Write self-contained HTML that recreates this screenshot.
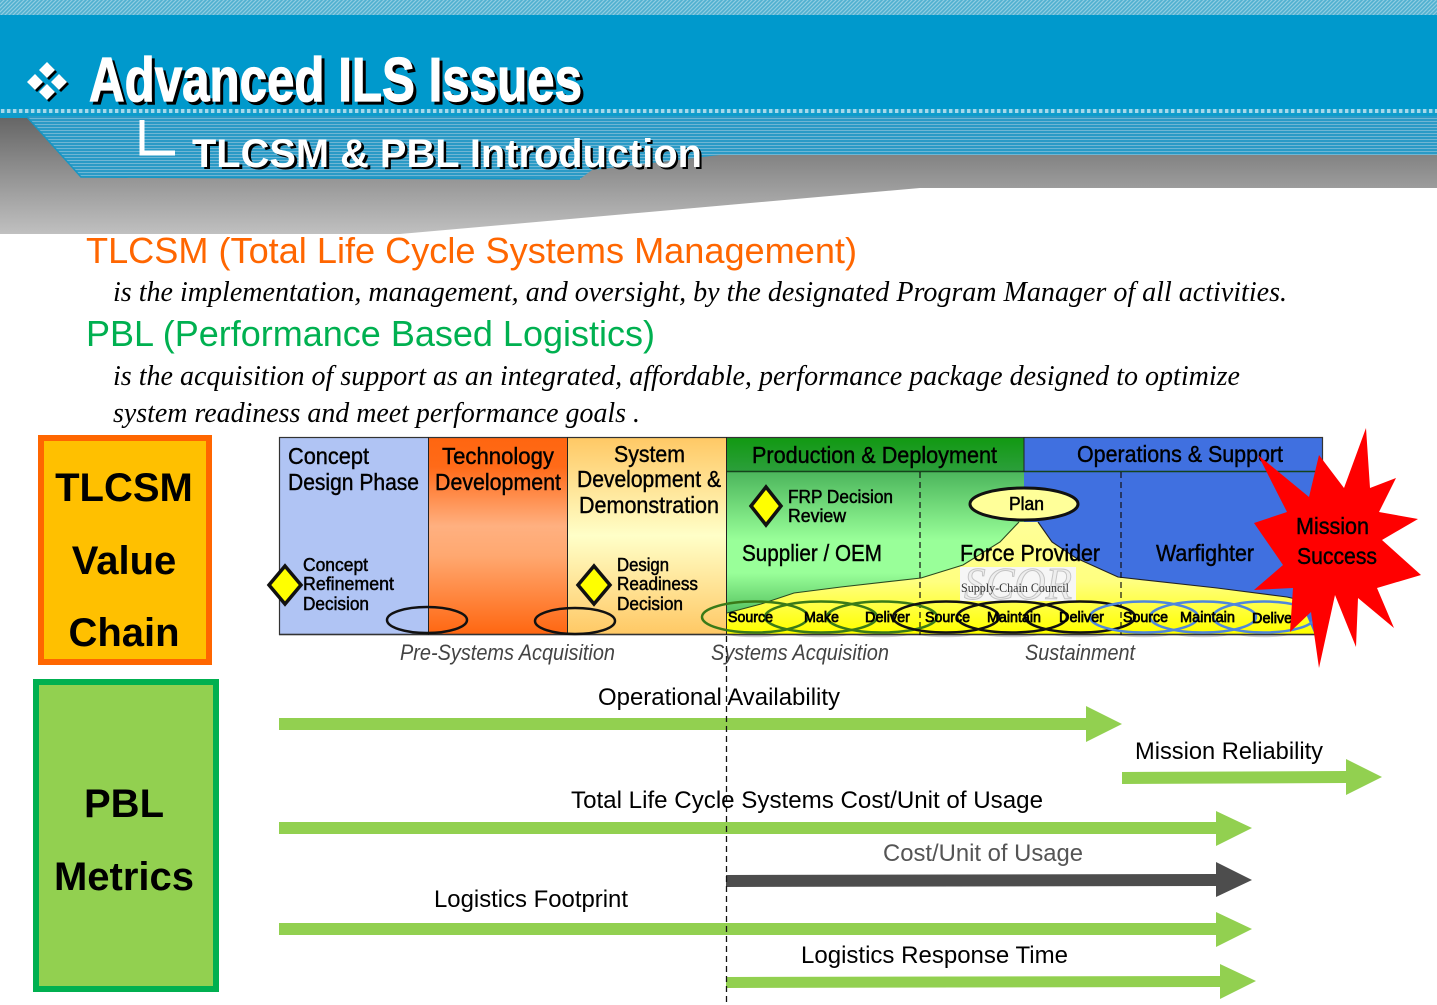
<!DOCTYPE html>
<html><head><meta charset="utf-8">
<style>
html,body{margin:0;padding:0;background:#fff;width:1437px;height:1005px;overflow:hidden}
svg{display:block}
text{font-family:"Liberation Sans",sans-serif;fill:#000}
.d{font-size:23px;stroke:#000;stroke-width:.4px}
.s{font-size:18px;stroke:#000;stroke-width:.5px}
.e{font-size:15px;stroke:#000;stroke-width:.7px}
.a{font-size:24px}
.i{font-family:"Liberation Serif",serif;font-style:italic;font-size:28px}
.p{font-style:italic;font-size:22px;fill:#444}
.b{font-weight:bold;font-size:40px;text-anchor:middle}
</style></head><body>
<svg width="1437" height="1005" viewBox="0 0 1437 1005" xmlns="http://www.w3.org/2000/svg">
<defs>
<pattern id="hatch" width="4" height="4" patternUnits="userSpaceOnUse"><rect width="4" height="4" fill="#4fb0d0"/><path d="M-1 1L1 -1M0 4L4 0M3 5L5 3" stroke="#8fcde2" stroke-width="1.2"/></pattern>
<pattern id="stripe" width="4" height="3" patternUnits="userSpaceOnUse"><rect width="4" height="3" fill="#2a9ac6"/><rect y="1" width="4" height="1" fill="#6fb6d4"/></pattern>
<pattern id="dots" width="6" height="4" patternUnits="userSpaceOnUse"><rect width="6" height="4" fill="#1aa0cc"/><rect x="1" width="3.4" height="4" fill="#a4d8ea"/></pattern>
<linearGradient id="gray" gradientUnits="userSpaceOnUse" x1="0" y1="118" x2="0" y2="234"><stop offset="0" stop-color="#666"/><stop offset="1" stop-color="#c0c0c0"/></linearGradient>
<linearGradient id="tech" x1="0" y1="0" x2="0" y2="1"><stop offset="0" stop-color="#ff6610"/><stop offset=".15" stop-color="#ff6a18"/><stop offset=".45" stop-color="#ffb080"/><stop offset=".6" stop-color="#ffa870"/><stop offset="1" stop-color="#ff6610"/></linearGradient>
<linearGradient id="sys" x1="0" y1="0" x2="0" y2="1"><stop offset="0" stop-color="#ffc864"/><stop offset=".5" stop-color="#ffffc8"/><stop offset="1" stop-color="#ffc864"/></linearGradient>
<linearGradient id="prod" x1="0" y1="0" x2="0" y2="1"><stop offset="0" stop-color="#4cb65c"/><stop offset=".42" stop-color="#99ff99"/><stop offset=".62" stop-color="#99ff99"/><stop offset="1" stop-color="#30a040"/></linearGradient>
<linearGradient id="head" x1="0" y1="0" x2="0" y2="1"><stop offset="0" stop-color="#119911"/><stop offset="1" stop-color="#2c9f3c"/></linearGradient>
<linearGradient id="mtn" gradientUnits="userSpaceOnUse" x1="0" y1="520" x2="0" y2="632"><stop offset="0" stop-color="#ffff99"/><stop offset=".55" stop-color="#ffff80"/><stop offset="1" stop-color="#ffff00"/></linearGradient>
<clipPath id="below"><rect x="690" y="635" width="640" height="6"/></clipPath>
</defs>

<!-- header -->
<rect width="1437" height="16" fill="url(#hatch)"/>
<rect y="15" width="1437" height="96" fill="#0099cc"/>
<rect y="109" width="1437" height="4" fill="url(#dots)"/>
<rect y="113" width="1437" height="5" fill="#0e9ccb"/>
<polygon points="0,118 1437,118 1437,188 920,188 400,234 0,234" fill="url(#gray)"/>
<polygon points="27,116 1437,116 1437,155 720,155 592,170 580,179 81,177" fill="url(#stripe)"/>
<polyline points="27,117 81,177 580,179" fill="none" stroke="#1796c4" stroke-width="1.5"/>

<!-- bullet -->
<g fill="#000" transform="translate(2,2)"><polygon points="47,62 55,70 47,78 39,70"/><polygon points="35,74 43,82 35,90 27,82"/><polygon points="59,74 67,82 59,90 51,82"/><polygon points="47,84 55,92 47,100 39,92"/></g>
<g fill="#fff"><polygon points="47,62 55,70 47,78 39,70"/><polygon points="35,74 43,82 35,90 27,82"/><polygon points="59,74 67,82 59,90 51,82"/><polygon points="47,84 55,92 47,100 39,92"/></g>

<text x="92" y="104" font-size="62" font-weight="bold" textLength="493" lengthAdjust="spacingAndGlyphs" style="fill:#000;stroke:#000;stroke-width:1.2">Advanced ILS Issues</text>
<text x="89" y="101" font-size="62" font-weight="bold" textLength="493" lengthAdjust="spacingAndGlyphs" style="fill:#fff;stroke:#fff;stroke-width:1.2">Advanced ILS Issues</text>
<path d="M142 120V153H175" fill="none" stroke="#fff" stroke-width="5"/>
<text x="195" y="169" font-size="40" font-weight="bold" textLength="509" lengthAdjust="spacingAndGlyphs" style="fill:#000">TLCSM &amp; PBL Introduction</text>
<text x="192" y="167" font-size="40" font-weight="bold" textLength="510" lengthAdjust="spacingAndGlyphs" style="fill:#fff">TLCSM &amp; PBL Introduction</text>

<!-- definitions -->
<text x="86" y="263" font-size="36" textLength="771" lengthAdjust="spacingAndGlyphs" style="fill:#ff6600">TLCSM (Total Life Cycle Systems Management)</text>
<text class="i" x="113" y="301" textLength="1174" lengthAdjust="spacingAndGlyphs">is the implementation, management, and oversight, by the designated Program Manager of all activities.</text>
<text x="86" y="346" font-size="36" textLength="569" lengthAdjust="spacingAndGlyphs" style="fill:#00b050">PBL (Performance Based Logistics)</text>
<text class="i" x="113" y="385" textLength="1127" lengthAdjust="spacingAndGlyphs">is the acquisition of support as an integrated, affordable, performance package designed to optimize</text>
<text class="i" x="113" y="422" textLength="527" lengthAdjust="spacingAndGlyphs">system readiness and meet performance goals .</text>

<!-- left boxes -->
<rect x="41" y="438" width="168" height="224" fill="#ffc000" stroke="#ff6600" stroke-width="6"/>
<text class="b" x="124" y="501">TLCSM</text>
<text class="b" x="124" y="574">Value</text>
<text class="b" x="124" y="646">Chain</text>
<rect x="36" y="682" width="180" height="307" fill="#92d050" stroke="#00b050" stroke-width="6"/>
<text class="b" x="124" y="817">PBL</text>
<text class="b" x="124" y="890">Metrics</text>

<!-- value chain -->
<rect x="279" y="437" width="149" height="198" fill="#b0c4f4"/>
<rect x="428" y="437" width="139" height="198" fill="url(#tech)"/>
<rect x="567" y="437" width="159" height="198" fill="url(#sys)"/>
<rect x="726" y="472" width="298" height="163" fill="url(#prod)"/>
<rect x="726" y="437" width="298" height="35" fill="url(#head)"/>
<rect x="1024" y="437" width="299" height="198" fill="#4070e0"/>
<line x1="726" y1="471.500" x2="1323" y2="471.500" stroke="#15431c" stroke-width="1.500"/>

<polygon points="1019,522 1000,542 963,565 921,578 841,587 794,593 761,604 727,613 726,635 1315,635 1300,600 1287,597 1217,588 1118,577 1076,558 1052,542 1038,522" fill="url(#mtn)"/>
<polyline points="1019,522 1000,542 963,565 921,578 841,587 794,593 761,604 727,613" fill="none" stroke="#2a4a20" stroke-width="1.100"/>
<polyline points="1038,522 1052,542 1076,558 1118,577 1217,588 1287,597 1300,600" fill="none" stroke="#222" stroke-width="1.100"/>

<rect x="279.500" y="437.500" width="1043" height="197" fill="none" stroke="#333" stroke-width="1.200"/>
<line x1="279" y1="634.500" x2="1316" y2="634.500" stroke="#333" stroke-width="1.600"/>
<line x1="428.500" y1="437" x2="428.500" y2="635" stroke="#222"/>
<line x1="567.500" y1="437" x2="567.500" y2="635" stroke="#222"/>
<line x1="726.500" y1="437" x2="726.500" y2="635" stroke="#222"/>
<line x1="1024" y1="437" x2="1024" y2="472" stroke="#222"/>
<line x1="920" y1="472" x2="920" y2="635" stroke="#111" stroke-width="1.200" stroke-dasharray="6 4"/>
<line x1="1121" y1="472" x2="1121" y2="635" stroke="#111" stroke-width="1.200" stroke-dasharray="6 4"/>

<!-- header labels -->
<text class="d" x="288" y="464" textLength="81" lengthAdjust="spacingAndGlyphs">Concept</text>
<text class="d" x="288" y="490" textLength="131" lengthAdjust="spacingAndGlyphs">Design Phase</text>
<text class="d" x="442" y="464" textLength="112" lengthAdjust="spacingAndGlyphs">Technology</text>
<text class="d" x="435" y="490" textLength="126" lengthAdjust="spacingAndGlyphs">Development</text>
<text class="d" x="614" y="462" textLength="71" lengthAdjust="spacingAndGlyphs">System</text>
<text class="d" x="577" y="487" textLength="144" lengthAdjust="spacingAndGlyphs">Development &amp;</text>
<text class="d" x="579" y="513" textLength="140" lengthAdjust="spacingAndGlyphs">Demonstration</text>
<text class="d" x="752" y="463" textLength="245" lengthAdjust="spacingAndGlyphs">Production &amp; Deployment</text>
<text class="d" x="1077" y="462" textLength="206" lengthAdjust="spacingAndGlyphs">Operations &amp; Support</text>

<!-- diamonds -->
<g fill="#ffff00" stroke="#111" stroke-width="3.500">
<polygon points="285,566 301,585 285,604 269,585"/>
<polygon points="594,566 610,585 594,604 578,585"/>
<polygon points="766,487 781,506 766,525 751,506"/>
</g>
<text class="s" x="303" y="571" textLength="65" lengthAdjust="spacingAndGlyphs">Concept</text>
<text class="s" x="303" y="590" textLength="91" lengthAdjust="spacingAndGlyphs">Refinement</text>
<text class="s" x="303" y="610" textLength="66" lengthAdjust="spacingAndGlyphs">Decision</text>
<text class="s" x="617" y="571" textLength="52" lengthAdjust="spacingAndGlyphs">Design</text>
<text class="s" x="617" y="590" textLength="81" lengthAdjust="spacingAndGlyphs">Readiness</text>
<text class="s" x="617" y="610" textLength="66" lengthAdjust="spacingAndGlyphs">Decision</text>
<text class="s" x="788" y="503" textLength="105" lengthAdjust="spacingAndGlyphs">FRP Decision</text>
<text class="s" x="788" y="522" textLength="58" lengthAdjust="spacingAndGlyphs">Review</text>

<text class="d" x="742" y="561" textLength="140" lengthAdjust="spacingAndGlyphs">Supplier / OEM</text>
<text class="d" x="960" y="561" textLength="140" lengthAdjust="spacingAndGlyphs">Force Provider</text>
<text class="d" x="1156" y="561" textLength="98" lengthAdjust="spacingAndGlyphs">Warfighter</text>

<!-- plan -->
<ellipse cx="1024" cy="504" rx="54" ry="16" fill="#ffff99" stroke="#111" stroke-width="3"/>
<text class="s" x="1009" y="510" textLength="35" lengthAdjust="spacingAndGlyphs">Plan</text>

<!-- SCOR -->
<rect x="960" y="567" width="116" height="34" fill="#f6f6f6"/>
<text x="964" y="599" font-size="46" textLength="108" lengthAdjust="spacingAndGlyphs" style="font-family:'Liberation Serif',serif;font-style:italic;fill:#eeeeee;stroke:#c4c4c4;stroke-width:1">SCOR</text>
<text x="961" y="592" font-size="13" textLength="108" lengthAdjust="spacingAndGlyphs" style="font-family:'Liberation Serif',serif;fill:#333">Supply-Chain Council</text>

<!-- ellipses -->
<g fill="none" stroke="#555" stroke-width="2.500" opacity=".3" clip-path="url(#below)">
<ellipse cx="755" cy="620" rx="53" ry="16"/><ellipse cx="821" cy="620" rx="56" ry="16"/><ellipse cx="882" cy="620" rx="55" ry="16"/>
<ellipse cx="946" cy="620" rx="53" ry="16"/><ellipse cx="1012" cy="620" rx="55" ry="16"/><ellipse cx="1080" cy="620" rx="55" ry="16"/>
<ellipse cx="1144" cy="620" rx="54" ry="16"/><ellipse cx="1203" cy="620" rx="53" ry="16"/><ellipse cx="1264" cy="620" rx="51" ry="16"/>
</g>
<g fill="none" stroke-width="2.500">
<g stroke="#3a7a18"><ellipse cx="755" cy="617" rx="53" ry="15.500"/><ellipse cx="821" cy="617" rx="56" ry="15.500"/><ellipse cx="882" cy="617" rx="55" ry="15.500"/></g>
<g stroke="#111"><ellipse cx="946" cy="617" rx="53" ry="15.500"/><ellipse cx="1012" cy="617" rx="55" ry="15.500"/><ellipse cx="1080" cy="617" rx="55" ry="15.500"/></g>
<g stroke="#4f86dc"><ellipse cx="1144" cy="617" rx="54" ry="15.500"/><ellipse cx="1203" cy="617" rx="53" ry="15.500"/><ellipse cx="1264" cy="617" rx="51" ry="15.500"/></g>
<g stroke="#111"><ellipse cx="427" cy="620" rx="40" ry="13"/><ellipse cx="575" cy="621" rx="40" ry="13"/></g>
</g>
<g>
<text class="e" x="728" y="622" textLength="45" lengthAdjust="spacingAndGlyphs">Source</text>
<text class="e" x="804" y="622" textLength="35" lengthAdjust="spacingAndGlyphs">Make</text>
<text class="e" x="865" y="622" textLength="45" lengthAdjust="spacingAndGlyphs">Deliver</text>
<text class="e" x="925" y="622" textLength="45" lengthAdjust="spacingAndGlyphs">Source</text>
<text class="e" x="987" y="622" textLength="54" lengthAdjust="spacingAndGlyphs">Maintain</text>
<text class="e" x="1059" y="622" textLength="45" lengthAdjust="spacingAndGlyphs">Deliver</text>
<text class="e" x="1123" y="622" textLength="45" lengthAdjust="spacingAndGlyphs">Source</text>
<text class="e" x="1180" y="622" textLength="55" lengthAdjust="spacingAndGlyphs">Maintain</text>
<text class="e" x="1252" y="623" textLength="45" lengthAdjust="spacingAndGlyphs">Deliver</text>
</g>

<!-- star -->
<polygon fill="#ff0000" points="1366,428 1370,488 1396,478 1379,512 1418,519 1382,540 1421,575 1377,588 1394,628 1358,598 1356,647 1335,595 1319,668 1311,612 1290,632 1293,588 1254,590 1283,565 1254,523 1287,512 1258,455 1309,497 1319,455 1344,488"/>
<text class="d" x="1296" y="534" textLength="73" lengthAdjust="spacingAndGlyphs">Mission</text>
<text class="d" x="1297" y="564" textLength="80" lengthAdjust="spacingAndGlyphs">Success</text>

<!-- phases -->
<text class="p" x="400" y="660" textLength="215" lengthAdjust="spacingAndGlyphs">Pre-Systems Acquisition</text>
<text class="p" x="711" y="660" textLength="178" lengthAdjust="spacingAndGlyphs">Systems Acquisition</text>
<text class="p" x="1025" y="660" textLength="110" lengthAdjust="spacingAndGlyphs">Sustainment</text>

<!-- arrows -->
<g fill="#92d050">
<polygon points="279,718 1086,718 1086,706 1122,724 1086,742 1086,730 279,730"/>
<polygon points="1122,772 1346,771 1346,759 1382,777 1346,795 1346,783 1122,784"/>
<polygon points="279,822 1216,822 1216,811 1252,828 1216,846 1216,834 279,834"/>
<polygon points="279,923 1216,923 1216,912 1252,929 1216,947 1216,935 279,935"/>
<polygon points="726,977 1220,976 1220,964 1256,981 1220,999 1220,987 726,988"/>
</g>
<polygon fill="#4d4d4d" points="726,875 1216,874 1216,862 1252,880 1216,897 1216,886 726,887"/>
<line x1="726.500" y1="636" x2="726.500" y2="1005" stroke="#111" stroke-width="1.300" stroke-dasharray="6 4"/>

<text class="a" x="598" y="705" textLength="242" lengthAdjust="spacingAndGlyphs">Operational Availability</text>
<text class="a" x="1135" y="759" textLength="188" lengthAdjust="spacingAndGlyphs">Mission Reliability</text>
<text class="a" x="571" y="808" textLength="472" lengthAdjust="spacingAndGlyphs">Total Life Cycle Systems Cost/Unit of Usage</text>
<text class="a" x="883" y="861" textLength="200" lengthAdjust="spacingAndGlyphs" style="fill:#555">Cost/Unit of Usage</text>
<text class="a" x="434" y="907" textLength="194" lengthAdjust="spacingAndGlyphs">Logistics Footprint</text>
<text class="a" x="801" y="963" textLength="267" lengthAdjust="spacingAndGlyphs">Logistics Response Time</text>
</svg>
</body></html>
